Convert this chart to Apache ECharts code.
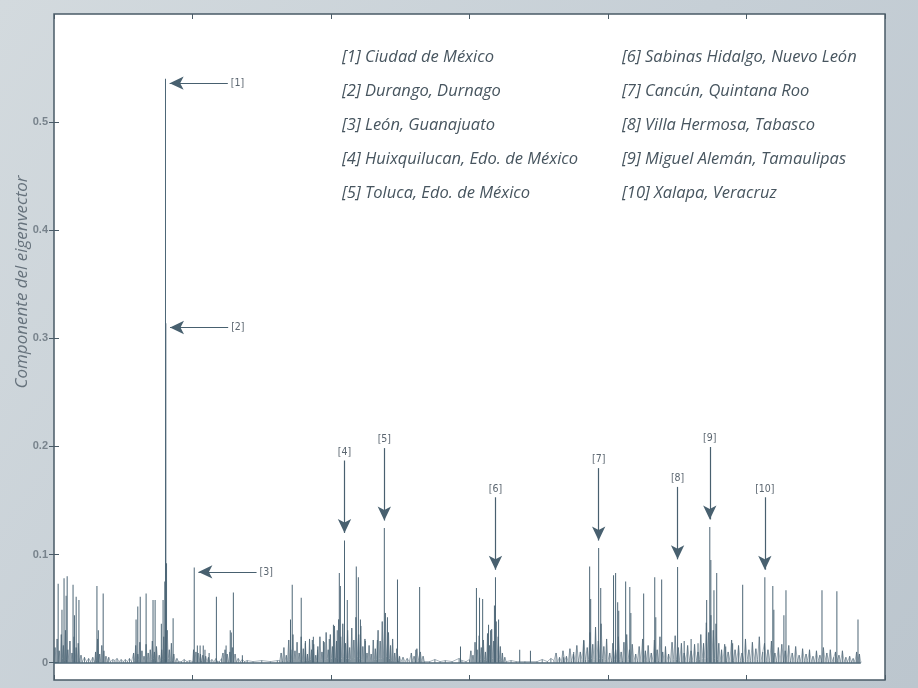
<!DOCTYPE html>
<html>
<head>
<meta charset="utf-8">
<script src="https://cdn.jsdelivr.net/npm/echarts@6/dist/echarts.min.js"></script>
<style>
  html, body { margin: 0; padding: 0; }
  #chart { width: 918px; height: 688px; }
</style>
</head>
<body>
<div id="chart"></div>
<script>
// picos (indice del municipio, componente) por grupo
const picosA = [[12,0.073],[23,0.049],[29,0.078],[35,0.062],[38,0.080],[55,0.072],[59,0.044],[64,0.061],[72,0.058],[124,0.071],[128,0.030],[142,0.064]];
const picosB = [[237,0.040],[242,0.052],[249,0.061],[266,0.064],[286,0.058],[292,0.058],[310,0.036],[315,0.058],[320,0.075],[322,0.540],[323,0.314],[325,0.092],[344,0.041]];
const picosC = [[405,0.088],[414,0.016],[422,0.016],[431,0.016],[436,0.012],[448,0.009],[469,0.061],[497,0.016],[509,0.030],[512,0.028],[518,0.065],[544,0.007]];
const picosD = [[683,0.040],[688,0.072],[714,0.060],[726,0.020],[746,0.021],[749,0.024],[761,0.012],[778,0.020],[795,0.022],[807,0.035],[818,0.030],[824,0.083],[827,0.071],[839,0.113],[847,0.058],[873,0.089],[879,0.079],[885,0.040],[899,0.020],[934,0.021],[954,0.1245],[963,0.042],[992,0.077],[1045,0.012],[1056,0.070]];
const picosE = [[1174,0.015],[1220,0.069],[1229,0.060],[1238,0.059],[1255,0.035],[1261,0.030],[1272,0.053],[1275,0.079],[1284,0.040],[1345,0.012],[1376,0.011]];
const picosF = [[1472,0.005],[1501,0.010],[1530,0.020],[1547,0.089],[1550,0.059],[1573,0.106],[1579,0.069],[1616,0.081],[1622,0.083],[1628,0.056],[1631,0.048],[1651,0.075],[1663,0.070],[1666,0.046],[1703,0.064],[1735,0.079],[1738,0.042],[1755,0.077],[1801,0.0886],[1820,0.020],[1840,0.022],[1860,0.018],[1885,0.058],[1894,0.1255],[1897,0.095],[1906,0.067],[1914,0.083],[1940,0.015],[1960,0.018],[1989,0.072],[2053,0.079],[2076,0.071],[2079,0.049],[2108,0.044],[2114,0.067],[2218,0.067],[2261,0.066],[2322,0.040]];

// ruido de fondo
const ruidoA = [[0,0.002],[3,0.014],[6,0.002],[9,0.022],[12,0.003],[15,0.011],[18,0.001],[21,0.026],[24,0.004],[27,0.016],[30,0.002],[33,0.030],[36,0.003],[40,0.012],[43,0.002],[46,0.020],[49,0.001],[52,0.009],[55,0.003],[58,0.024],[61,0.002],[64,0.014],[67,0.001],[70,0.018],[74,0.002],[78,0.007],[82,0.001],[88,0.005],[94,0.001],[100,0.004],[106,0.001],[112,0.005],[117,0.001],[120,0.010],[123,0.002],[126,0.022],[129,0.002],[132,0.008],[135,0.001],[138,0.016],[141,0.002],[144,0.011],[147,0.001],[150,0.006],[154,0.002],[158,0.005],[163,0.001],[170,0.003]];
const ruidoB = [[176,0.002],[182,0.004],[188,0.001],[194,0.003],[200,0.001],[206,0.003],[212,0.001],[218,0.004],[224,0.001],[230,0.009],[233,0.002],[236,0.016],[239,0.002],[242,0.008],[245,0.003],[248,0.019],[251,0.002],[254,0.011],[257,0.002],[260,0.006],[263,0.002],[266,0.017],[269,0.002],[272,0.009],[275,0.001],[278,0.012],[281,0.003],[284,0.020],[287,0.004],[290,0.010],[293,0.002],[296,0.015],[300,0.002],[304,0.007],[308,0.002],[311,0.012],[314,0.003],[317,0.024],[320,0.004],[327,0.030],[330,0.004],[333,0.012],[336,0.002],[339,0.018],[342,0.002],[346,0.008],[350,0.001],[355,0.004],[360,0.001]];
const ruidoC = [[368,0.001],[376,0.003],[384,0.001],[392,0.002],[400,0.001],[403,0.012],[407,0.002],[410,0.010],[413,0.001],[416,0.009],[419,0.001],[423,0.008],[426,0.002],[430,0.007],[434,0.001],[438,0.006],[442,0.001],[446,0.005],[450,0.001],[456,0.003],[462,0.001],[468,0.004],[472,0.001],[478,0.001],[484,0.004],[488,0.009],[491,0.002],[494,0.012],[497,0.002],[500,0.008],[504,0.001],[508,0.010],[511,0.002],[515,0.014],[519,0.002],[523,0.008],[527,0.001],[532,0.004],[538,0.001],[544,0.003],[550,0.001],[558,0.002],[575,0.001],[600,0.002],[625,0.001],[645,0.002]];
const ruidoD = [[652,0.002],[656,0.009],[660,0.002],[664,0.014],[667,0.002],[671,0.007],[674,0.002],[678,0.021],[681,0.003],[684,0.012],[687,0.002],[690,0.026],[693,0.003],[696,0.011],[699,0.002],[702,0.019],[705,0.002],[708,0.009],[711,0.003],[714,0.024],[717,0.002],[720,0.013],[723,0.002],[726,0.018],[729,0.002],[732,0.008],[735,0.002],[738,0.022],[741,0.003],[744,0.012],[747,0.002],[750,0.017],[753,0.002],[756,0.007],[759,0.002],[762,0.015],[765,0.002],[768,0.024],[771,0.003],[774,0.010],[777,0.002],[780,0.019],[783,0.003],[786,0.028],[789,0.004],[792,0.012],[795,0.003],[798,0.026],[801,0.004],[804,0.015],[807,0.004],[810,0.034],[813,0.005],[816,0.020],[819,0.004],[822,0.040],[825,0.006],[828,0.024],[831,0.004],[834,0.036],[837,0.006],[842,0.018],[845,0.004],[848,0.030],[851,0.004],[854,0.014],[857,0.003],[860,0.032],[863,0.005],[866,0.021],[869,0.004],[872,0.042],[876,0.006],[880,0.026],[883,0.004],[886,0.034],[889,0.003],[892,0.015],[895,0.002],[898,0.022],[901,0.002],[904,0.009],[907,0.002],[910,0.016],[913,0.002],[916,0.008],[919,0.002],[922,0.021],[925,0.003],[928,0.013],[931,0.003],[936,0.030],[939,0.004],[942,0.020],[945,0.004],[948,0.038],[951,0.005],[957,0.046],[960,0.006],[966,0.028],[969,0.004],[972,0.016],[975,0.002],[978,0.022],[981,0.002],[984,0.009],[987,0.002],[990,0.013],[995,0.002],[998,0.006],[1002,0.001],[1008,0.005],[1014,0.001],[1020,0.004],[1026,0.001],[1032,0.009],[1036,0.002],[1040,0.006],[1044,0.002],[1048,0.013],[1052,0.002],[1058,0.010],[1062,0.002],[1066,0.006],[1070,0.001],[1085,0.001],[1100,0.003],[1115,0.001],[1130,0.002],[1150,0.001],[1170,0.004],[1178,0.002],[1190,0.001]];
const ruidoE = [[1200,0.003],[1204,0.011],[1207,0.002],[1210,0.007],[1213,0.002],[1216,0.019],[1219,0.003],[1222,0.012],[1225,0.002],[1228,0.025],[1231,0.003],[1234,0.014],[1237,0.002],[1240,0.021],[1243,0.003],[1246,0.010],[1249,0.002],[1252,0.027],[1255,0.004],[1258,0.016],[1261,0.003],[1264,0.031],[1267,0.004],[1270,0.020],[1273,0.004],[1277,0.038],[1280,0.005],[1283,0.024],[1286,0.003],[1289,0.015],[1292,0.002],[1295,0.009],[1298,0.001],[1302,0.005],[1306,0.001],[1320,0.002],[1335,0.001],[1360,0.001],[1395,0.001],[1410,0.003],[1425,0.001],[1435,0.004]];
const ruidoF = [[1444,0.002],[1450,0.009],[1455,0.001],[1460,0.005],[1465,0.001],[1470,0.011],[1475,0.002],[1480,0.006],[1485,0.001],[1490,0.013],[1495,0.002],[1500,0.008],[1505,0.002],[1510,0.016],[1515,0.002],[1520,0.010],[1525,0.003],[1530,0.021],[1535,0.003],[1540,0.014],[1544,0.003],[1548,0.028],[1552,0.004],[1556,0.017],[1560,0.003],[1564,0.033],[1568,0.005],[1572,0.020],[1576,0.004],[1580,0.036],[1584,0.004],[1588,0.015],[1592,0.003],[1596,0.022],[1600,0.002],[1605,0.009],[1610,0.002],[1614,0.018],[1618,0.003],[1622,0.012],[1626,0.003],[1630,0.024],[1634,0.003],[1638,0.010],[1642,0.002],[1646,0.019],[1650,0.003],[1654,0.026],[1658,0.003],[1662,0.012],[1666,0.002],[1670,0.017],[1675,0.002],[1680,0.008],[1685,0.002],[1690,0.015],[1695,0.002],[1700,0.022],[1704,0.003],[1708,0.011],[1712,0.002],[1716,0.016],[1720,0.002],[1725,0.009],[1730,0.002],[1734,0.021],[1738,0.003],[1742,0.012],[1746,0.002],[1750,0.024],[1754,0.003],[1758,0.010],[1762,0.002],[1766,0.015],[1770,0.002],[1775,0.008],[1780,0.002],[1785,0.019],[1790,0.003],[1794,0.025],[1798,0.003],[1803,0.014],[1807,0.002],[1812,0.018],[1816,0.002],[1820,0.009],[1825,0.002],[1830,0.016],[1835,0.002],[1840,0.011],[1845,0.002],[1850,0.017],[1855,0.002],[1860,0.010],[1864,0.003],[1868,0.026],[1872,0.004],[1876,0.018],[1880,0.004],[1884,0.037],[1888,0.005],[1891,0.028],[1894,0.006],[1897,0.044],[1900,0.005],[1904,0.030],[1908,0.004],[1912,0.036],[1916,0.003],[1920,0.018],[1924,0.002],[1928,0.012],[1932,0.002],[1937,0.017],[1942,0.002],[1947,0.010],[1952,0.002],[1957,0.021],[1962,0.002],[1967,0.012],[1972,0.002],[1977,0.016],[1982,0.002],[1987,0.009],[1992,0.002],[1997,0.022],[2002,0.003],[2007,0.012],[2012,0.002],[2017,0.019],[2022,0.002],[2027,0.013],[2032,0.003],[2037,0.024],[2042,0.002],[2047,0.010],[2052,0.018],[2057,0.002],[2062,0.012],[2067,0.002],[2072,0.020],[2077,0.002],[2082,0.009],[2087,0.002],[2092,0.014],[2097,0.002],[2102,0.017],[2107,0.002],[2112,0.011],[2117,0.002],[2122,0.016],[2127,0.002],[2132,0.009],[2137,0.002],[2142,0.015],[2147,0.002],[2152,0.007],[2157,0.001],[2162,0.013],[2167,0.002],[2172,0.008],[2177,0.002],[2182,0.012],[2187,0.001],[2192,0.006],[2197,0.001],[2202,0.011],[2207,0.002],[2212,0.007],[2217,0.002],[2222,0.014],[2227,0.002],[2232,0.009],[2237,0.001],[2242,0.012],[2247,0.001],[2252,0.005],[2257,0.010],[2262,0.002],[2267,0.007],[2272,0.001],[2277,0.011],[2282,0.001],[2287,0.005],[2292,0.001],[2298,0.006],[2303,0.001],[2308,0.004],[2313,0.001],[2318,0.010],[2322,0.002],[2326,0.008],[2330,0.001]];

// municipios señalados: [etiqueta, indice, componente]
const senaladosH = [['[1]',322,0.540],['[2]',323,0.314],['[3]',405,0.088]];
const senaladosV = [['[4]',839,0.113],['[5]',954,0.1245],['[6]',1275,0.079],['[7]',1573,0.106],['[8]',1801,0.0886],['[9]',1894,0.1255],['[10]',2053,0.079]];

const ticksY = [0, 0.1, 0.2, 0.3, 0.4, 0.5];
const leyendaIzq = ['[1] Ciudad de México','[2] Durango, Durnago','[3] León, Guanajuato','[4] Huixquilucan, Edo. de México','[5] Toluca, Edo. de México'];
const leyendaDer = ['[6] Sabinas Hidalgo, Nuevo León','[7] Cancún, Quintana Roo','[8] Villa Hermosa, Tabasco','[9] Miguel Alemán, Tamaulipas','[10] Xalapa, Veracruz'];

const picos = [...picosA, ...picosB, ...picosC, ...picosD, ...picosE, ...picosF];
const ruido = [...ruidoA, ...ruidoB, ...ruidoC, ...ruidoD, ...ruidoE, ...ruidoF].sort((a, b) => a[0] - b[0]);

const colorTraza = '#4d6676';
const colorFlecha = '#48606f';

const flechas = [
  ...senaladosH.map(([t, x, y]) => [
    { name: t, coord: [x + 180, y - 0.004], symbol: 'none' },
    { coord: [x + 12, y - 0.004], symbol: 'arrow', symbolSize: [10, 14] }
  ]),
  ...senaladosV.map(([t, x, y]) => [
    { name: t, coord: [x, y + 0.074], symbol: 'none' },
    { coord: [x, y + 0.007], symbol: 'arrow', symbolSize: [10, 14] }
  ])
];

// linea base en cero, del primer al ultimo municipio
const lineaBase = [[
  { coord: [ruido[0][0], 0], symbol: 'none' },
  { coord: [ruido[ruido.length - 1][0], 0], symbol: 'none' }
]];

const chart = echarts.init(document.getElementById('chart'));

const textoLeyenda = (lista, x) => lista.map((t, i) => ({
  type: 'text',
  x: x,
  y: 57 + i * 34,
  style: {
    text: t,
    fill: '#47555f',
    font: 'italic 16.5px "Open Sans"',
    verticalAlign: 'middle'
  }
}));

const ejeX = pos => ({
  type: 'value', min: 0, max: 2400, interval: 400, position: pos,
  axisLine: { show: false, onZero: false },
  axisTick: { show: true, inside: true, length: 5, lineStyle: { color: '#4a5b67' } },
  axisLabel: { show: false },
  splitLine: { show: false }
});

const option = {
  animation: false,
  backgroundColor: {
    type: 'linear', x: 0, y: 0, x2: 1, y2: 1,
    colorStops: [
      { offset: 0, color: '#d3dade' },
      { offset: 0.5, color: '#c6cfd6' },
      { offset: 1, color: '#bcc6ce' }
    ]
  },
  grid: {
    left: 54, right: 33, top: 14, bottom: 8,
    show: true,
    backgroundColor: '#ffffff',
    borderColor: '#4a5b67',
    borderWidth: 1.5
  },
  xAxis: [ejeX('bottom'), ejeX('top')],
  yAxis: [
    {
      type: 'value', min: -0.016, max: 0.6, position: 'left',
      axisLine: { show: false },
      axisTick: { show: true, inside: true, length: 5, customValues: ticksY, lineStyle: { color: '#4a5b67' } },
      axisLabel: {
        show: true, customValues: ticksY, margin: 6,
        color: '#78838c', fontSize: 11, fontWeight: 'bold', fontFamily: 'Liberation Sans',
        formatter: v => (v === 0 ? '0' : v.toFixed(1))
      },
      splitLine: { show: false }
    },
    {
      type: 'value', min: -0.016, max: 0.6, position: 'right',
      axisLine: { show: false },
      axisTick: { show: true, inside: true, length: 5, customValues: ticksY, lineStyle: { color: '#4a5b67' } },
      axisLabel: { show: false },
      splitLine: { show: false }
    }
  ],
  graphic: [
    {
      type: 'text', x: 22, y: 282, rotation: Math.PI / 2,
      style: {
        text: 'Componente del eigenvector',
        fill: '#66727c',
        font: 'italic 17px "Open Sans"',
        align: 'center',
        verticalAlign: 'middle'
      }
    },
    ...textoLeyenda(leyendaIzq, 342),
    ...textoLeyenda(leyendaDer, 622)
  ],
  series: [
    {
      type: 'line',
      data: ruido,
      symbol: 'none',
      lineStyle: { color: colorTraza, width: 0.6, opacity: 0.8 },
      z: 2,
      markLine: {
        silent: true,
        label: { show: false },
        lineStyle: { color: colorTraza, width: 1.6, type: 'solid' },
        data: lineaBase
      }
    },
    {
      type: 'bar',
      data: ruido,
      barWidth: 1,
      barGap: '-100%',
      itemStyle: { color: colorTraza, opacity: 0.85 },
      z: 2
    },
    {
      type: 'bar',
      data: picos,
      barWidth: 1,
      barGap: '-100%',
      itemStyle: { color: colorTraza },
      z: 3,
      markLine: {
        silent: true,
        lineStyle: { color: colorFlecha, width: 1.2, type: 'solid' },
        label: {
          show: true,
          position: 'start',
          formatter: '{b}',
          color: '#5b6670',
          fontSize: 10.5,
          fontFamily: 'DejaVu Sans Condensed',
          distance: 3
        },
        data: flechas
      }
    }
  ]
};

chart.setOption(option);
</script>
</body>
</html>
